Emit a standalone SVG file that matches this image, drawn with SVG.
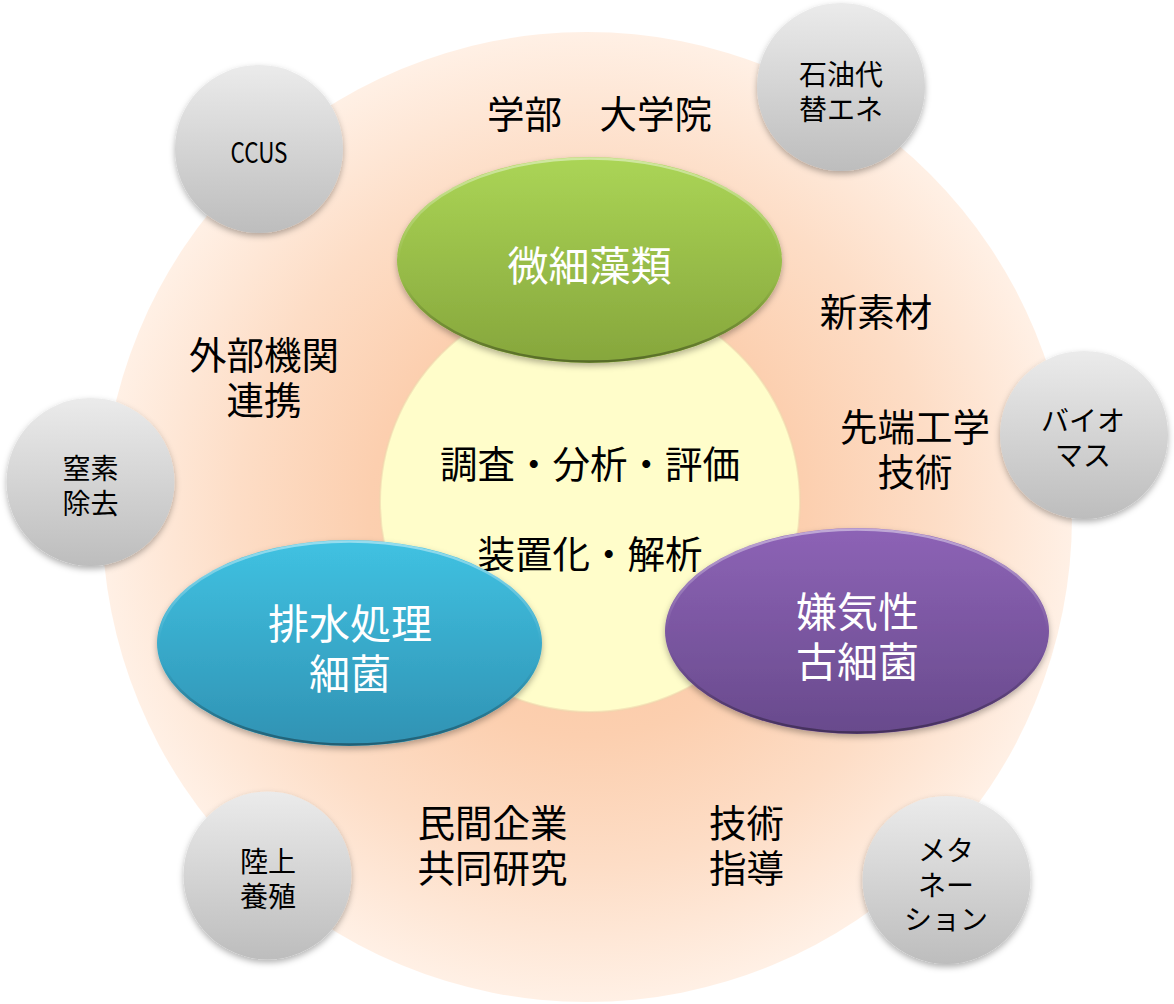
<svg xmlns="http://www.w3.org/2000/svg" width="1174" height="1004" viewBox="0 0 1174 1004">
  <defs>
    <radialGradient id="gBig" cx="587" cy="517" r="485" gradientUnits="userSpaceOnUse">
      <stop offset="0" stop-color="#FBC49D"/>
      <stop offset="0.45" stop-color="#FCCFAF"/>
      <stop offset="0.72" stop-color="#FDDDC6"/>
      <stop offset="1" stop-color="#FFF0E5"/>
    </radialGradient>
    <linearGradient id="gGray" x1="0" y1="0" x2="0" y2="1">
      <stop offset="0" stop-color="#EBEBEB"/>
      <stop offset="1" stop-color="#BDBDBD"/>
    </linearGradient>
    <linearGradient id="gGreen" x1="0" y1="0" x2="0" y2="1">
      <stop offset="0" stop-color="#ABD556"/>
      <stop offset="1" stop-color="#86A63C"/>
    </linearGradient>
    <linearGradient id="gBlue" x1="0" y1="0" x2="0" y2="1">
      <stop offset="0" stop-color="#40C2E2"/>
      <stop offset="1" stop-color="#3092B3"/>
    </linearGradient>
    <linearGradient id="gPurple" x1="0" y1="0" x2="0" y2="1">
      <stop offset="0" stop-color="#8D63B6"/>
      <stop offset="1" stop-color="#684A8C"/>
    </linearGradient>
    <linearGradient id="gRim" x1="0" y1="0" x2="0" y2="1">
      <stop offset="0" stop-color="#FFFFFF" stop-opacity="0.45"/>
      <stop offset="0.5" stop-color="#FFFFFF" stop-opacity="0"/>
      <stop offset="0.6" stop-color="#000000" stop-opacity="0"/>
      <stop offset="1" stop-color="#000000" stop-opacity="0.35"/>
    </linearGradient>
    <filter id="shadow" x="-20%" y="-20%" width="140%" height="150%">
      <feDropShadow dx="0" dy="3" stdDeviation="3" flood-color="#000000" flood-opacity="0.3"/>
    </filter>
  </defs>
  <style>
    text { font-family: "Noto Sans CJK JP", "Noto Sans", sans-serif; text-anchor: middle; dominant-baseline: central; }
    .lbl { font-size: 37.5px; fill: #000000; }
    .sm { font-size: 28px; fill: #000000; }
    .wh { font-size: 41px; fill: #FFFFFF; }
    .gray { fill: url(#gGray); filter: url(#shadow); }
    .rim { fill: none; stroke: url(#gRim); stroke-width: 2.5; }
  </style>

  <g id="background">
    <circle cx="587" cy="517" r="485" fill="url(#gBig)"/>
  </g>

  <g id="center-circle">
    <circle cx="590" cy="502" r="210" fill="#FFFDCA" stroke="#F0D6AE" stroke-width="2" stroke-opacity="0.6"/>
    <text class="lbl" x="590" y="461">調査・分析・評価</text>
    <text class="lbl" x="590" y="551">装置化・解析</text>
  </g>

  <g id="connectors"/>

  <g id="node-ccus">
    <circle class="gray" cx="259" cy="149" r="84"/>
    <text class="sm" x="259" y="151" textLength="57" lengthAdjust="spacingAndGlyphs">CCUS</text>
  </g>
  <g id="node-sekiyu">
    <circle class="gray" cx="841" cy="87" r="84"/>
    <text class="sm" x="841" y="72.5"><tspan x="841">石油代</tspan><tspan x="841" dy="35">替エネ</tspan></text>
  </g>
  <g id="node-chisso">
    <circle class="gray" cx="90.5" cy="482" r="84"/>
    <text class="sm" x="90.5" y="467"><tspan x="90.5">窒素</tspan><tspan x="90.5" dy="35">除去</tspan></text>
  </g>
  <g id="node-biomass">
    <circle class="gray" cx="1084" cy="435" r="84"/>
    <text class="sm" x="1083" y="419"><tspan x="1083">バイオ</tspan><tspan x="1083" dy="35">マス</tspan></text>
  </g>
  <g id="node-rikujo">
    <circle class="gray" cx="267.5" cy="875.5" r="84"/>
    <text class="sm" x="268" y="860"><tspan x="268">陸上</tspan><tspan x="268" dy="35">養殖</tspan></text>
  </g>
  <g id="node-methanation">
    <circle class="gray" cx="946.5" cy="880" r="84"/>
    <text class="sm" x="946" y="849"><tspan x="946">メタ</tspan><tspan x="946" dy="34.5">ネー</tspan><tspan x="946" dy="34.5">ション</tspan></text>
  </g>

  <g id="node-sourui">
    <ellipse cx="589.5" cy="260" rx="192.5" ry="103" fill="url(#gGreen)" filter="url(#shadow)"/>
    <ellipse class="rim" cx="589.5" cy="260" rx="191" ry="101.5"/>
    <text class="wh" x="589.5" y="263">微細藻類</text>
  </g>
  <g id="node-haisui">
    <ellipse cx="349.5" cy="643" rx="192.5" ry="103" fill="url(#gBlue)" filter="url(#shadow)"/>
    <ellipse class="rim" cx="349.5" cy="643" rx="191" ry="101.5"/>
    <text class="wh" x="350" y="621"><tspan x="350">排水処理</tspan><tspan x="350" dy="50">細菌</tspan></text>
  </g>
  <g id="node-kenki">
    <ellipse cx="857" cy="631" rx="192" ry="103" fill="url(#gPurple)" filter="url(#shadow)"/>
    <ellipse class="rim" cx="857" cy="631" rx="190.5" ry="101.5"/>
    <text class="wh" x="857.5" y="609"><tspan x="857.5">嫌気性</tspan><tspan x="857.5" dy="50">古細菌</tspan></text>
  </g>

  <g id="labels">
    <text class="lbl" x="599.5" y="111">学部　大学院</text>
    <text class="lbl" x="876" y="309">新素材</text>
    <text class="lbl" x="264" y="352"><tspan x="264">外部機関</tspan><tspan x="264" dy="45">連携</tspan></text>
    <text class="lbl" x="915" y="424"><tspan x="915">先端工学</tspan><tspan x="915" dy="45">技術</tspan></text>
    <text class="lbl" x="492.5" y="820"><tspan x="492.5">民間企業</tspan><tspan x="492.5" dy="45">共同研究</tspan></text>
    <text class="lbl" x="746.5" y="820"><tspan x="746.5">技術</tspan><tspan x="746.5" dy="45">指導</tspan></text>
  </g>
</svg>
